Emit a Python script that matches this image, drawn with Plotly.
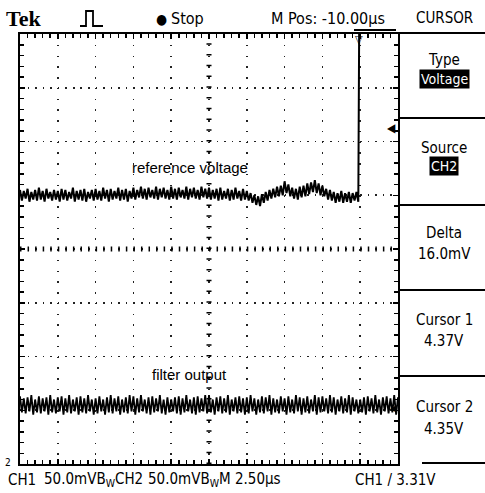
import plotly.graph_objects as go

# ---- data (read from the screen) ----
# time axis: 2.50 us/div, 10 divisions; voltage: 50.0 mV/div, 8 divisions
t_start_us = -12.5
sample_dt_us = 0.125

# reference voltage (CH1), mV, every 0.125 us until the trigger step
ref_mv = [55, 45, 54, 47, 56, 44, 53, 46, 55, 45, 57, 46, 54, 44, 56, 47, 53, 45, 55, 46,
          54, 44, 56, 46, 55, 45, 53, 47, 57, 44, 54, 46, 55, 45, 56, 44, 53, 47, 55, 45,
          56, 46, 54, 45, 57, 47, 55, 44, 56, 46, 54, 47, 57, 45, 55, 46, 56, 44, 54, 47,
          57, 46, 55, 48, 58, 47, 56, 46, 57, 48, 55, 47, 58, 46, 56, 48, 57, 47, 55, 46,
          58, 47, 56, 46, 57, 48, 55, 47, 58, 46, 56, 48, 57, 47, 55, 46, 58, 48, 56, 47,
          57, 46, 55, 47, 56, 45, 57, 46, 54, 47, 56, 45, 55, 46, 57, 47, 54, 45, 56, 46,
          54, 45, 52, 43, 50, 41, 49, 40, 51, 43, 53, 45, 55, 47, 56, 48, 58, 49, 59, 50,
          63, 52, 60, 49, 57, 47, 56, 46, 58, 48, 59, 49, 61, 51, 62, 53, 64, 52, 61, 50,
          59, 49, 56, 46, 55, 45, 53, 43, 52, 44, 54, 43, 52, 44, 53, 43, 52, 45, 53, 44]
ref_step_mv = [400]  # trace leaves the top of the screen at the trigger

# filter output (CH2), mV, every 0.125 us
filt_mv = [-137, -152, -139, -153, -138, -151, -136, -154, -140, -152, -137, -153, -139, -151, -138, -154, -136, -152, -140, -153,
           -138, -151, -137, -154, -139, -152, -136, -153, -140, -151, -138, -154, -137, -152, -139, -153, -136, -151, -140, -154,
           -139, -153, -137, -151, -140, -154, -138, -152, -136, -153, -139, -151, -137, -154, -140, -152, -138, -153, -136, -151,
           -137, -154, -139, -152, -136, -151, -140, -153, -138, -154, -137, -152, -139, -151, -136, -153, -140, -154, -138, -152,
           -140, -151, -138, -153, -137, -154, -139, -152, -136, -151, -140, -153, -138, -154, -137, -152, -139, -151, -136, -153,
           -136, -152, -140, -154, -138, -151, -137, -153, -139, -152, -136, -154, -140, -151, -138, -153, -137, -152, -139, -154,
           -138, -153, -136, -151, -139, -154, -140, -152, -137, -153, -138, -151, -136, -154, -139, -152, -140, -153, -137, -151,
           -139, -154, -137, -152, -140, -153, -136, -151, -138, -154, -139, -152, -137, -153, -140, -151, -136, -154, -138, -152,
           -137, -151, -139, -153, -136, -152, -138, -154, -140, -151, -137, -153, -139, -152, -136, -154, -138, -151, -140, -153,
           -140, -152, -138, -154, -137, -151, -139, -153, -136, -152, -140, -154, -138, -151, -137, -153, -139, -152, -136, -154,
           -138]

x_range = [-12.5, 12.5]
y_range = [-200, 200]

top_labels = ["Stop", "M Pos: -10.00\u00b5s", "CURSOR"]
menu_titles = ["Type", "Source", "Delta", "Cursor 1", "Cursor 2"]
menu_values = ["Voltage", "CH2", "16.0mV", "4.37V", "4.35V"]
bottom_labels = ["CH1", "50.0mVB<sub>W</sub>CH2", "50.0mVB<sub>W</sub>M 2.50\u00b5s", "CH1 / 3.31V"]
trace_labels = ["reference voltage", "filter output"]

# ---- layout geometry (pixels) ----
W, H = 485, 493
L, R, T, B = 20, 398, 34, 464


def px(x):
    return (x - L) / (R - L)


def py(y):
    return (B - y) / (B - T)


NARROW = "Liberation Sans Narrow, DejaVu Sans Condensed, Arial Narrow, sans-serif"

fig = go.Figure()
fig.add_trace(go.Scatter(y=ref_mv + ref_step_mv, x0=t_start_us, dx=sample_dt_us, mode="lines",
                         line=dict(color="black", width=2), hoverinfo="skip"))
fig.add_trace(go.Scatter(y=filt_mv, x0=t_start_us, dx=sample_dt_us, mode="lines",
                         line=dict(color="black", width=1.8), hoverinfo="skip"))

axis_common = dict(showticklabels=False, showline=True, linecolor="black", linewidth=2,
                   mirror="ticks", ticks="inside", tickcolor="black", ticklen=5, tickwidth=1.5,
                   zeroline=False, showgrid=True, gridcolor="#222", gridwidth=1.6, fixedrange=True)
fig.update_xaxes(range=x_range, dtick=2.5, tick0=0, griddash="1.6px,9.15px",
                 minor=dict(dtick=0.5, ticks="inside", ticklen=4, tickcolor="black", showgrid=False),
                 **axis_common)
fig.update_yaxes(range=y_range, dtick=50, tick0=0, griddash="1.6px,5.96px",
                 minor=dict(dtick=10, ticks="inside", ticklen=4, tickcolor="black", showgrid=False),
                 **axis_common)

shapes = []
# centre cross with minor tick marks
shapes.append(dict(type="line", xref="x", yref="y", x0=x_range[0], x1=x_range[1], y0=0, y1=0,
                   line=dict(color="black", width=5, dash="1.5px,6.06px")))
shapes.append(dict(type="line", xref="x", yref="y", x0=0, x1=0, y0=y_range[0], y1=y_range[1],
                   line=dict(color="black", width=5, dash="1.5px,9.25px")))
# top line across the whole screen and trigger position bracket
shapes.append(dict(type="line", xref="paper", yref="paper", x0=px(L), x1=px(485), y0=py(33), y1=py(33),
                   line=dict(color="black", width=2)))
shapes.append(dict(type="line", xref="paper", yref="paper", x0=px(354), x1=px(396), y0=py(30), y1=py(30),
                   line=dict(color="black", width=2)))
# right menu separators
for yy in [118, 205, 290, 376]:
    shapes.append(dict(type="line", xref="paper", yref="paper", x0=px(398), x1=px(485), y0=py(yy), y1=py(yy),
                       line=dict(color="black", width=2)))
shapes.append(dict(type="line", xref="paper", yref="paper", x0=px(422), x1=px(485), y0=py(463), y1=py(463),
                   line=dict(color="black", width=2)))
# pulse glyph
pulse = "M {},{} L {},{} L {},{} L {},{} L {},{} L {},{}".format(
    px(80), py(26), px(86), py(26), px(86), py(11), px(93), py(11), px(93), py(26), px(103), py(26))
shapes.append(dict(type="path", xref="paper", yref="paper", path=pulse, line=dict(color="black", width=1.8)))
fig.update_layout(shapes=shapes)

ann = []


def text(x, y, s, size=15, family=NARROW, anchor="center", color="black", bg=None, bold=False):
    d = dict(xref="paper", yref="paper", x=px(x), y=py(y), text=("<b>%s</b>" % s) if bold else s,
             showarrow=False, xanchor=anchor, yanchor="middle",
             font=dict(size=size, family=family, color=color))
    if bg:
        d.update(bgcolor=bg, borderpad=1)
    ann.append(d)


text(4, 19, "Tek", size=22, family="Liberation Serif, DejaVu Serif, serif", anchor="left", bold=True)
text(161, 19, "\u25cf", size=14)
text(169, 19, top_labels[0], size=16, anchor="left")
text(328, 19, top_labels[1], size=16)
text(444, 18, top_labels[2], size=15)

menu_title_y = [60, 148, 233, 320, 407]
menu_value_y = [79, 166, 254, 341, 429]
for i in range(5):
    text(444, menu_title_y[i], menu_titles[i], size=15)
    if i < 2:
        text(444, menu_value_y[i], menu_values[i], size=14, color="white", bg="black")
    else:
        text(444, menu_value_y[i], menu_values[i], size=15)

text(190, 168, trace_labels[0], size=15, family="Liberation Sans, Arial, sans-serif")
text(189, 374, trace_labels[1], size=15, family="Liberation Sans, Arial, sans-serif")

text(6, 480, bottom_labels[0], size=15, anchor="left")
text(42, 480, bottom_labels[1], size=15, anchor="left")
text(146, 480, bottom_labels[2], size=15, anchor="left")
text(353, 480, bottom_labels[3], size=15, anchor="left")

# markers: trigger position, trigger level, channel markers
text(359, 40, "\u25bd", size=11)
text(391, 128, "\u25c0", size=12)
text(393, 408, "\u25c0", size=8)
text(8, 462, "2", size=10)

fig.update_layout(annotations=ann, width=W, height=H, showlegend=False,
                  margin=dict(l=L, r=W - R, t=T, b=H - B, pad=0),
                  paper_bgcolor="white", plot_bgcolor="white")

fig.write_html("out.html", config={"displayModeBar": False, "staticPlot": True},
               post_script="document.body.style.margin='0px';document.body.style.padding='0px';")
